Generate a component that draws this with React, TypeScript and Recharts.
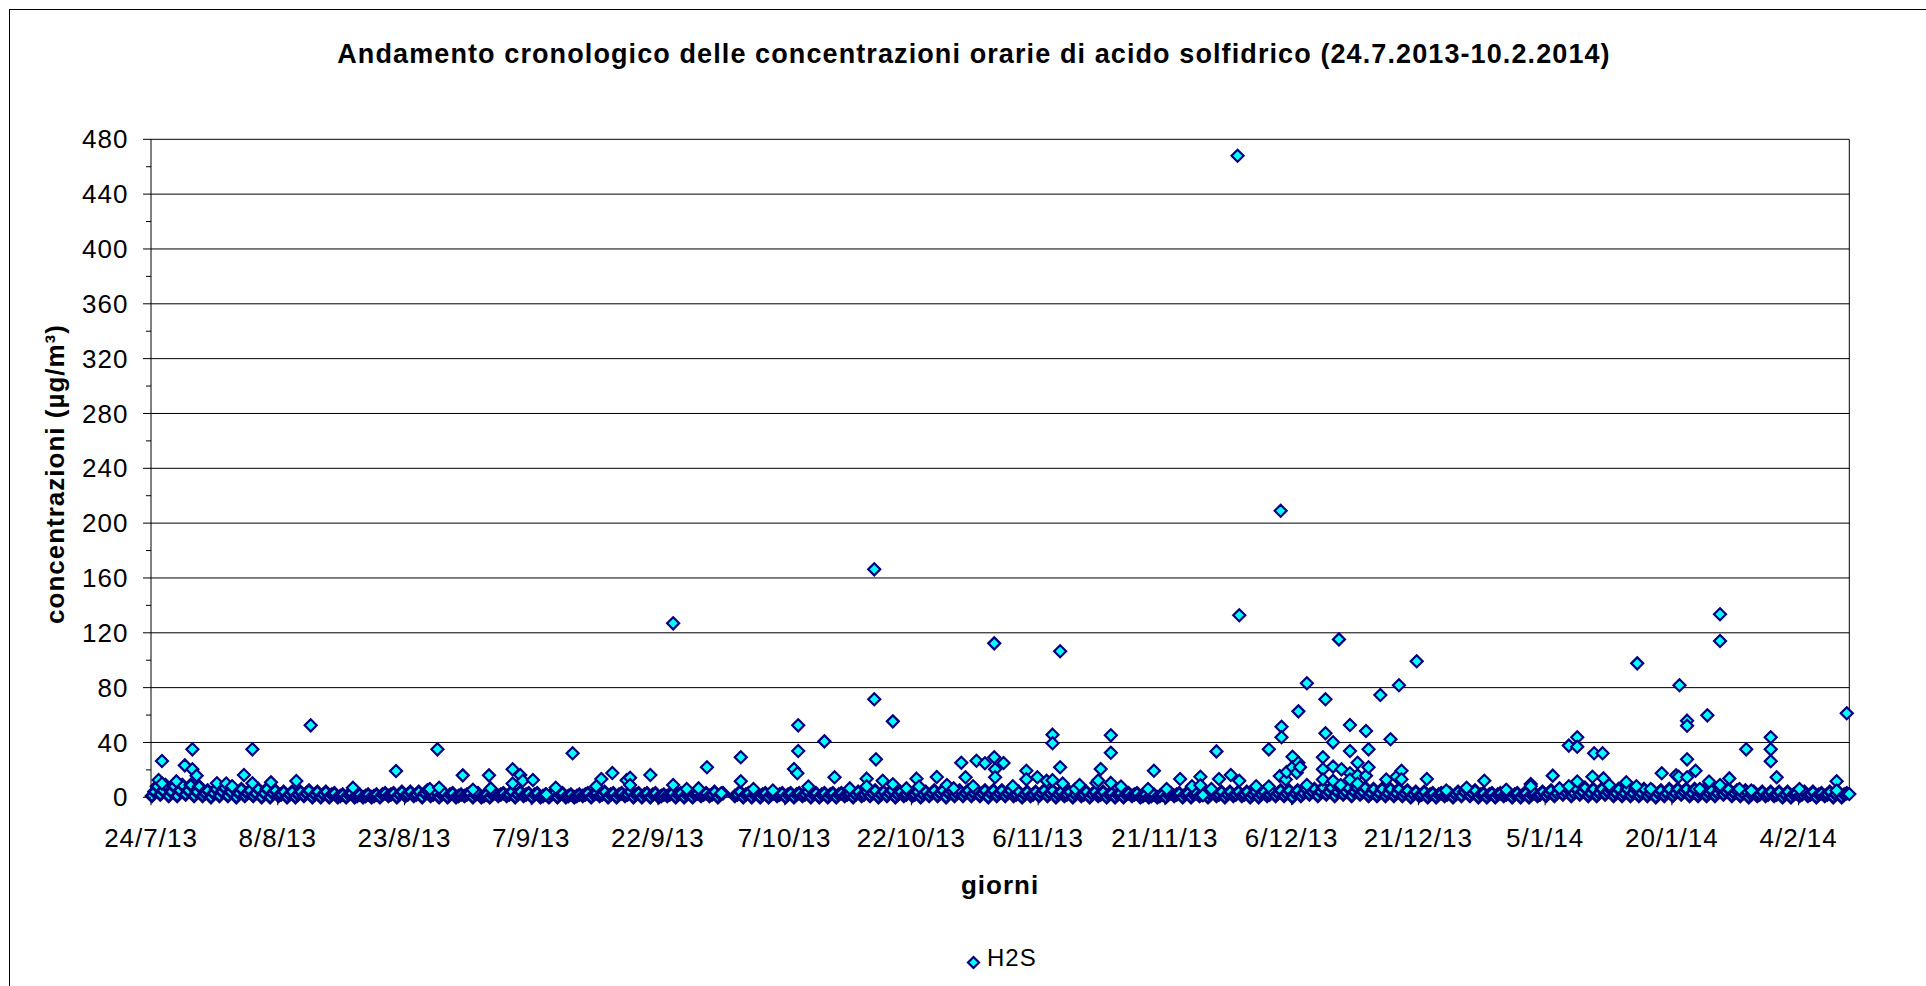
import { ScatterChart, Scatter, XAxis, YAxis, ReferenceLine } from 'recharts'

const FONT = "'Liberation Sans', Arial, sans-serif"
const NAVY = '#000080'
const CYAN = '#00FFFF'

// giorni dal 24/7/2013 (0) al 10/2/2014 (201)
const xTicks = [0, 15, 30, 45, 60, 75, 90, 105, 120, 135, 150, 165, 180, 195]
const xTickLabels = [
  '24/7/13', '8/8/13', '23/8/13', '7/9/13', '22/9/13', '7/10/13', '22/10/13',
  '6/11/13', '21/11/13', '6/12/13', '21/12/13', '5/1/14', '20/1/14', '4/2/14',
]
const yMajorTicks = [0, 40, 80, 120, 160, 200, 240, 280, 320, 360, 400, 440, 480]
const yMinorTicks = [20, 60, 100, 140, 180, 220, 260, 300, 340, 380, 420, 460]

// fascia di base: valori letti giorno per giorno (null = nessun dato)
const bandLow: (number | null)[] = [
  1, 2, 1, 1, 2, 1, // 0-5
  1, 0, 1, 1, 0, 1, 1, 0, // 6-13
  0, 1, 0, 0, 1, 0, 0, 0, // 14-21
  0, 0, 0, 0, 0, // 22-26
  0, 1, 0, 1, 1, 0, 1, // 27-33
  0, 0, 0, 1, 0, 0, 0, 1, 1, 0, 1, 0, 0, // 34-46
  0, 0, 0, 0, 1, 0, 1, 0, 0, 1, 0, 0, 0, 0, 1, 0, 0, 0, 1, 1, 0, // 47-67
  null, // 68
  1, 0, 0, 0, 0, 1, 0, 0, 1, 0, 0, 0, 0, 1, 0, 1, 1, 0, 1, 0, 1, 1, 0, 1, 1, 0, 1, 1, 1, 1, 0, 1, 1, // 69-101
  1, 0, 1, 1, 1, 0, 1, 0, 1, 0, 1, 0, 0, 0, 1, 0, 0, 0, 0, 1, 0, 0, 1, 0, 1, 0, 1, 1, 0, 0, 1, 1, 1, 0, 1, // 102-136
  2, 1, 2, 1, 2, 1, 2, 1, 1, 1, 1, 1, 0, 1, // 137-150
  0, 0, 1, 0, 1, 1, 0, 0, 0, 1, 0, 0, 0, 1, 1, // 151-165
  1, 2, 1, 2, 1, 1, 2, 1, 1, 1, 1, 1, 0, 1, 1, 2, 1, 1, 1, 1, 2, 1, 1, 0, 1, // 166-190
  1, 1, 0, 0, 1, 1, 0, 1, 0, 0, // 191-200
]
const bandMid: (number | null)[] = [
  4, 5, 4, 5, 5, 4,
  3, 3, 4, 4, 3, 3, 3, 3,
  3, 2, 2, 2, 3, 2, 2, 2,
  1, 2, 1, 1, 1,
  2, 2, 2, 2, 2, 3, 2,
  2, 2, 1, 2, 2, 1, 2, 2, 2, 2, 2, 2, 1,
  2, 2, 1, 1, 2, 2, 2, 2, 2, 2, 2, 2, 2, 1, 2, 2, 2, 2, 2, 2, 2,
  null,
  2, 2, 2, 2, 2, 2, 2, 2, 2, 2, 2, 2, 2, 2, 2, 2, 3, 2, 3, 2, 2, 2, 2, 3, 3, 3, 3, 3, 3, 3, 3, 3, 3,
  2, 2, 2, 3, 3, 2, 2, 2, 2, 2, 2, 2, 2, 2, 2, 1, 1, 1, 2, 2, 2, 2, 2, 2, 2, 2, 2, 2, 2, 2, 2, 3, 3, 3, 3,
  4, 4, 4, 4, 4, 4, 4, 3, 3, 3, 3, 3, 2, 2,
  2, 2, 2, 2, 4, 3, 2, 2, 2, 2, 2, 2, 2, 2, 3,
  3, 4, 3, 4, 3, 3, 4, 3, 3, 3, 3, 3, 3, 3, 3, 4, 3, 3, 3, 3, 4, 3, 3, 2, 2,
  2, 2, 2, 2, 2, 2, 2, 2, 2, 2,
]
const bandHigh: (number | null)[] = [
  8, 9, 8, 9, 9, 8,
  5, 6, 7, 7, 6, 5, 6, 6,
  5, 4, 4, 4, 5, 4, 4, 3,
  2, 3, 2, 2, 2,
  3, 3, 4, 4, 4, 5, 4,
  3, 3, 2, 3, 3, 2, 3, 3, 4, 4, 3, 3, 2,
  3, 3, 2, 2, 3, 3, 4, 3, 3, 4, 3, 3, 3, 2, 3, 3, 3, 3, 3, 4, 3,
  null,
  4, 3, 3, 3, 3, 3, 3, 3, 4, 3, 3, 3, 3, 3, 4, 4, 5, 4, 5, 4, 4, 4, 4, 5, 5, 5, 5, 5, 5, 5, 5, 5, 5,
  4, 4, 4, 5, 5, 4, 4, 4, 4, 4, 4, 3, 3, 3, 3, 2, 2, 2, 3, 3, 3, 3, 3, 4, 4, 4, 4, 4, 4, 4, 4, 5, 5, 5, 6,
  6, 7, 7, 7, 7, 7, 7, 6, 6, 6, 6, 5, 4, 4,
  3, 3, 3, 4, 6, 5, 3, 3, 3, 3, 3, 3, 3, 4, 5,
  6, 6, 6, 7, 6, 6, 6, 6, 6, 6, 6, 5, 5, 6, 6, 6, 6, 5, 5, 6, 6, 5, 5, 4, 4,
  4, 4, 4, 3, 4, 4, 3, 4, 4, 3,
]

// valori isolati sopra la fascia: [giorno, µg/m³]
const peaks: [number, number][] = [
  [0.9, 12.6], [1.3, 26.5], [1.3, 10], [3.0, 11.6], [4.0, 23.3], [4.9, 35], [4.9, 20.4], [5.4, 15.8],
  [7.8, 10.2], [8.9, 10], [9.6, 8], [11.0, 16.3], [12.0, 35], [12.0, 10.2], [14.2, 10.9], [17.2, 11.9],
  [18.9, 52.5], [23.9, 7], [29.0, 19.2], [33.0, 6], [33.9, 35], [34.1, 7], [36.9, 16], [38.1, 5.5],
  [40.0, 16], [40.2, 6.5], [42.8, 20.4], [42.8, 10], [43.7, 16.3], [44.0, 12.1], [45.2, 12.6], [46.8, 2],
  [47.9, 7], [49.9, 32.1], [52.7, 8], [53.3, 13.3], [54.6, 17.7], [56.3, 12.5], [56.7, 14.3], [56.7, 9],
  [59.1, 16.3], [61.8, 126.9], [61.8, 9], [63.4, 6], [64.8, 6.5], [65.8, 21.9], [67.5, 3],
  [69.8, 29.2], [69.8, 11.7], [71.3, 6], [73.6, 5], [76.1, 20.6], [76.5, 17.5], [76.6, 52.5], [76.6, 33.8],
  [77.8, 7.9], [79.7, 40.8], [80.9, 14.6], [82.7, 6.5], [84.7, 13.6], [84.7, 8], [85.6, 166.3], [85.6, 71.5],
  [85.8, 27.7], [86.6, 12.1], [87.8, 55.4], [87.8, 9.5], [89.4, 6.5], [90.6, 13.6], [90.9, 7.9], [93.0, 14.8],
  [94.2, 9], [95.0, 6.5], [95.9, 25.2], [96.4, 14.6], [97.3, 8], [97.7, 26.7], [98.7, 24.8], [99.8, 112.3],
  [99.8, 29.2], [99.9, 20.4], [99.9, 14.6], [100.9, 25], [102.0, 8],
  [103.6, 19.4], [103.6, 13.1], [104.9, 14.6], [106.0, 12], [106.7, 45.7], [106.7, 39.4], [106.7, 12.5],
  [107.6, 106.5], [107.6, 21.9], [107.9, 10], [109.4, 6], [109.9, 9], [111.9, 10.5], [112.1, 12.3],
  [112.4, 20.6], [113.6, 45.2], [113.6, 32.5], [113.6, 10.5], [114.8, 7.9], [118.0, 6], [118.7, 19.4],
  [120.2, 6], [121.8, 13.3], [123.2, 8], [124.2, 15], [124.2, 8.8], [124.5, 1.5], [125.5, 6], [126.1, 33.5],
  [126.4, 13.3], [127.8, 16.3], [128.6, 468], [128.8, 132.8], [128.8, 12.1], [130.8, 8], [132.3, 35],
  [132.3, 7.9], [133.6, 15.5], [133.7, 209], [133.8, 51.5], [133.8, 43.8], [134.3, 13], [134.4, 18.5],
  [135.1, 29.6], [135.1, 21.9], [135.6, 18], [135.8, 62.7], [135.8, 25.2], [136.0, 22], [136.8, 83.2], [136.8, 9],
  [138.7, 29.2], [138.7, 20.4], [138.7, 13], [139.0, 71.5], [139.0, 46.7], [139.9, 40.1], [139.9, 22.4],
  [139.9, 12], [140.6, 115.2], [140.8, 9], [140.9, 20.4], [141.9, 52.7], [141.9, 33.8], [141.9, 17.5],
  [141.9, 13], [142.8, 25.2], [142.8, 16], [142.8, 10], [143.8, 48.4], [143.8, 15.8], [144.1, 35], [144.1, 21.9],
  [145.5, 74.6], [146.2, 13], [146.7, 42.3], [147.4, 15], [147.7, 81.7], [148.0, 19.4], [148.0, 13.1],
  [149.8, 99.2], [151.0, 13.3], [153.3, 5], [155.7, 7], [157.8, 12.1], [160.4, 5.5], [163.3, 9.7], [163.3, 8],
  [165.9, 15.8], [166.7, 6.5], [167.8, 37.7], [167.8, 8], [168.8, 43.8], [168.8, 36.9], [168.8, 11.5],
  [170.6, 15], [170.8, 32.1], [171.8, 32.1], [171.9, 13.8], [172.6, 9], [174.6, 11], [175.8, 8], [175.9, 97.7],
  [177.5, 6], [178.8, 17.5], [180.5, 16], [180.8, 15], [180.9, 81.7], [181.8, 55.9], [181.8, 52.2],
  [181.8, 27.7], [181.8, 14.6], [182.8, 19.4], [183.3, 6], [184.2, 59.8], [184.4, 11.5], [185.7, 133.5],
  [185.7, 114], [185.7, 9], [186.8, 13.8], [188.0, 6], [188.8, 35], [189.4, 5], [191.7, 43.8], [191.7, 35],
  [191.7, 26.3], [192.4, 14.6], [195.1, 6], [199.5, 11.7], [199.5, 5], [200.7, 61.3], [201, 2.4],
]

type Point = { day: number; h2s: number }
const bandPoints: Point[] = []
bandLow.forEach((v, d) => { if (v !== null) bandPoints.push({ day: d + 0.1, h2s: v }) })
bandMid.forEach((v, d) => { if (v !== null) bandPoints.push({ day: d + 0.4, h2s: v }) })
bandHigh.forEach((v, d) => { if (v !== null) bandPoints.push({ day: d + 0.7, h2s: v }) })
bandPoints.sort((a, b) => a.day - b.day)
const peakPoints: Point[] = peaks.map(([day, v]) => ({ day, h2s: v }))

const yTicks = [...yMajorTicks, ...yMinorTicks].sort((a, b) => a - b)

const PLOT_LEFT = 151

function Diamond({ cx, cy, r = 6, sw = 2.2 }: any) {
  if (cx == null || cy == null) return null
  return (
    <path
      d={`M${cx},${cy - r}L${cx + r},${cy}L${cx},${cy + r}L${cx - r},${cy}Z`}
      fill={CYAN}
      stroke={NAVY}
      strokeWidth={sw}
    />
  )
}

function XTick({ x, payload }: any) {
  const i = xTicks.indexOf(payload.value)
  return (
    <text x={x} y={847} textAnchor="middle" fontSize={26} letterSpacing={1} fontFamily={FONT} fill="#000">
      {xTickLabels[i]}
    </text>
  )
}

function YTick({ y, payload }: any) {
  const major = yMajorTicks.includes(payload.value)
  return (
    <g>
      <line x1={PLOT_LEFT - (major ? 8 : 5)} x2={PLOT_LEFT} y1={y} y2={y} stroke="#000" />
      {major && (
        <text x={128.5} y={y} dy="0.35em" textAnchor="end" fontSize={26} letterSpacing={1} fontFamily={FONT} fill="#000">
          {payload.value}
        </text>
      )}
    </g>
  )
}

export default function App() {
  return (
    <div style={{ position: 'absolute', left: 0, top: 0, width: 1926, height: 986, overflow: 'hidden', background: '#fff', fontFamily: FONT }}>
      {/* cornice esterna */}
      <div style={{ position: 'absolute', left: 9, top: 9, width: 1917, height: 977, borderLeft: '1px solid #000', borderTop: '1px solid #000', boxSizing: 'border-box' }} />

      <ScatterChart width={1926} height={986} margin={{ top: 139.3, right: 76.7, bottom: 128.7, left: 0 }}>
        {yMajorTicks.slice(1).map((v) => (
          <ReferenceLine key={v} y={v} stroke="#000" strokeWidth={1} />
        ))}
        <ReferenceLine x={201} stroke="#000" strokeWidth={1} />
        <XAxis
          type="number"
          dataKey="day"
          domain={[0, 201]}
          ticks={xTicks}
          interval={0}
          height={60}
          tickSize={8}
          tickLine={{ stroke: '#000' }}
          axisLine={{ stroke: '#000' }}
          tick={(p: any) => <XTick {...p} />}
        />
        <YAxis
          type="number"
          dataKey="h2s"
          domain={[0, 480]}
          ticks={yTicks}
          interval={0}
          width={PLOT_LEFT}
          tickLine={false}
          axisLine={{ stroke: '#000' }}
          tick={(p: any) => <YTick {...p} />}
        />
        {/* fascia densa dei valori orari bassi: contorni sovrapposti */}
        <Scatter name="H2S" data={bandPoints} shape={(p: any) => <Diamond {...p} r={5.6} sw={3} />} isAnimationActive={false} />
        <Scatter name="H2S" data={peakPoints} shape={(p: any) => <Diamond {...p} r={6} sw={2.2} />} isAnimationActive={false} />
      </ScatterChart>

      {/* titolo */}
      <div style={{ position: 'absolute', left: 974, top: 40.5, transform: 'translateX(-50%)', whiteSpace: 'nowrap', fontSize: 27, lineHeight: '27px', fontWeight: 'bold', letterSpacing: 1.1 }}>
        Andamento cronologico delle concentrazioni orarie di acido solfidrico (24.7.2013-10.2.2014)
      </div>

      {/* titolo asse y */}
      <div style={{ position: 'absolute', left: 55, top: 474, transform: 'translate(-50%, -50%) rotate(-90deg)', whiteSpace: 'nowrap', fontSize: 26, lineHeight: '26px', fontWeight: 'bold', letterSpacing: 1 }}>
        concentrazioni (µg/m³)
      </div>

      {/* titolo asse x */}
      <div style={{ position: 'absolute', left: 1000, top: 872, transform: 'translateX(-50%)', whiteSpace: 'nowrap', fontSize: 26, lineHeight: '26px', fontWeight: 'bold', letterSpacing: 1 }}>
        giorni
      </div>

      {/* legenda */}
      <svg style={{ position: 'absolute', left: 963, top: 952 }} width={21} height={21}>
        <path d="M10.5,5L16,10.5L10.5,16L5,10.5Z" fill={CYAN} stroke={NAVY} strokeWidth={2.2} />
      </svg>
      <div style={{ position: 'absolute', left: 987, top: 946.4, fontSize: 24, lineHeight: '24px', letterSpacing: 1, whiteSpace: 'nowrap' }}>
        H2S
      </div>
    </div>
  )
}
